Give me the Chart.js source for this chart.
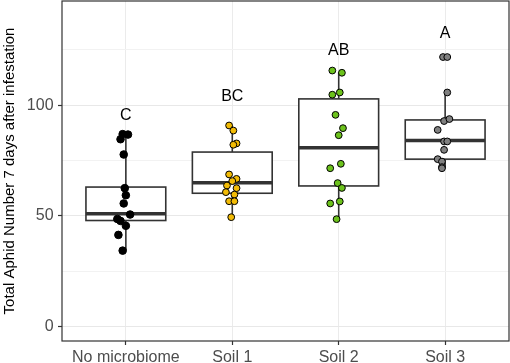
<!DOCTYPE html>
<html>
<head>
<meta charset="utf-8">
<script src="https://cdn.jsdelivr.net/npm/chart.js@4/dist/chart.umd.min.js"></script>
<style>
  html, body { margin: 0; padding: 0; background: #fff; overflow: hidden; }
  canvas { display: block; }
</style>
</head>
<body>
<canvas id="chart" width="510" height="372"></canvas>
<script>
// 組別與數據
const categories = ['No microbiome', 'Soil 1', 'Soil 2', 'Soil 3'];
const groupColors = ['#000000', '#f2bb05', '#6cc21c', '#808080'];
const letters = ['C', 'BC', 'AB', 'A'];
const letterY = [95.3, 103.9, 124.5, 132.1];

// 盒鬚圖統計值
const whiskerLow = [34.4, 49.4, 48.5, 71.5];
const q1 = [47.9, 60.2, 63.5, 75.6];
const median = [50.9, 65.0, 80.8, 84.0];
const q3 = [63.0, 78.8, 102.8, 93.3];
const whiskerHigh = [86.6, 90.8, 114.8, 105.7];

// 各點數值 (y) 與水平抖動 (x 偏移)
const noMicroY = [86.9, 86.7, 84.6, 77.7, 62.5, 59.3, 55.6, 50.6, 48.6, 47.7, 45.5, 41.4, 34.3];
const noMicroX = [-0.03, 0.02, -0.05, -0.02, -0.01, 0.00, -0.02, 0.04, -0.08, -0.05, 0.00, -0.07, -0.03];
const soil1Y = [90.8, 88.5, 82.7, 82.1, 68.7, 66.7, 65.7, 63.7, 62.5, 60.7, 59.6, 56.6, 56.6, 49.4];
const soil1X = [-0.03, 0.01, 0.04, 0.01, -0.03, 0.04, 0.00, -0.05, 0.04, -0.06, 0.02, -0.03, 0.02, -0.01];
const soil2Y = [115.6, 114.6, 104.7, 105.7, 95.6, 89.6, 86.4, 73.5, 71.5, 64.8, 62.6, 56.5, 55.6, 48.5];
const soil2X = [-0.06, 0.03, -0.06, 0.01, -0.03, 0.04, 0.00, 0.02, -0.08, -0.01, 0.03, 0.01, -0.08, -0.02];
const soil3Y = [121.7, 121.7, 105.7, 92.8, 93.7, 88.8, 83.6, 83.6, 79.8, 75.6, 74.5, 72.0, 71.5];
const soil3X = [-0.02, 0.02, 0.02, -0.01, 0.04, -0.07, -0.01, 0.02, -0.01, -0.07, -0.03, -0.03, -0.03];

const yTicks = [0, 25, 50, 75, 100, 125];
const yLabelTicks = [0, 50, 100];

const pointSets = [[noMicroX, noMicroY], [soil1X, soil1Y], [soil2X, soil2Y], [soil3X, soil3Y]];

const datasets = pointSets.map(([xs, ys], i) => ({
    label: categories[i],
    data: ys.map((v, j) => ({ x: i + xs[j], y: v })),
    backgroundColor: groupColors[i],
    borderColor: '#000',
    borderWidth: 1,
    pointRadius: i === 0 ? 3.8 : 3.4,
    pointHoverRadius: 3.4
}));

// 繪製盒鬚圖
const boxPlugin = {
    id: 'boxes',
    beforeDatasetsDraw(chart) {
        const { ctx, scales: { x, y } } = chart;
        const half = 0.375;
        ctx.save();
        ctx.strokeStyle = '#333';
        categories.forEach((c, i) => {
            const cx = x.getPixelForValue(i);
            const left = x.getPixelForValue(i - half);
            const right = x.getPixelForValue(i + half);
            // 鬚線
            ctx.lineWidth = 1.6;
            ctx.beginPath();
            ctx.moveTo(cx, y.getPixelForValue(whiskerHigh[i]));
            ctx.lineTo(cx, y.getPixelForValue(q3[i]));
            ctx.moveTo(cx, y.getPixelForValue(q1[i]));
            ctx.lineTo(cx, y.getPixelForValue(whiskerLow[i]));
            ctx.stroke();
            // 盒子
            const top = y.getPixelForValue(q3[i]);
            const bot = y.getPixelForValue(q1[i]);
            ctx.fillStyle = '#fff';
            ctx.fillRect(left, top, right - left, bot - top);
            ctx.strokeRect(left, top, right - left, bot - top);
            // 中位數
            ctx.lineWidth = 3.5;
            ctx.beginPath();
            const my = y.getPixelForValue(median[i]);
            ctx.moveTo(left, my);
            ctx.lineTo(right, my);
            ctx.stroke();
        });
        ctx.restore();
    },
    afterDatasetsDraw(chart) {
        const { ctx, chartArea: a, scales: { x, y } } = chart;
        ctx.save();
        // 顯著性字母
        ctx.fillStyle = '#000';
        ctx.font = '16px "Liberation Sans", Arial, sans-serif';
        ctx.textAlign = 'center';
        ctx.textBaseline = 'middle';
        letters.forEach((t, i) => {
            ctx.fillText(t, x.getPixelForValue(i), y.getPixelForValue(letterY[i]));
        });
        // 外框
        ctx.strokeStyle = '#333';
        ctx.lineWidth = 1.2;
        ctx.strokeRect(a.left, a.top, a.right - a.left, a.bottom - a.top);
        ctx.restore();
    }
};

new Chart(document.getElementById('chart'), {
    type: 'scatter',
    data: { datasets },
    options: {
        responsive: false,
        animation: false,
        layout: { autoPadding: false, padding: { top: 1, right: 1, left: 0, bottom: 0 } },
        plugins: { legend: { display: false }, tooltip: { enabled: false } },
        scales: {
            x: {
                type: 'linear',
                min: -0.6,
                max: 3.6,
                afterBuildTicks: s => { s.ticks = categories.map((c, i) => ({ value: i })); },
                afterFit: s => { s.height = 31; },
                ticks: {
                    callback: v => categories[v],
                    color: '#4d4d4d',
                    font: { size: 16, family: '"Liberation Sans", Arial, sans-serif' },
                    padding: 3,
                    maxRotation: 0,
                    autoSkip: false
                },
                grid: { color: '#ebebeb', lineWidth: 1, tickLength: 4, tickColor: '#333', tickWidth: 1.2 },
                border: { display: false }
            },
            y: {
                min: -6.5,
                max: 147,
                afterBuildTicks: s => { s.ticks = yTicks.map(v => ({ value: v })); },
                afterFit: s => { s.width = 62; },
                ticks: {
                    callback: v => yLabelTicks.includes(v) ? String(v) + ' ' : '',
                    color: '#4d4d4d',
                    font: { size: 16, family: '"Liberation Sans", Arial, sans-serif', lineHeight: 0.1 },
                    padding: 0
                },
                grid: {
                    color: c => yLabelTicks.includes(c.tick.value) ? '#e8e8e8' : '#f2f2f2',
                    lineWidth: 1,
                    tickLength: 4,
                    tickColor: c => yLabelTicks.includes(c.tick.value) ? '#333' : 'rgba(0,0,0,0)',
                    tickWidth: 1.2
                },
                border: { display: false },
                title: {
                    display: true,
                    text: 'Total Aphid Number 7 days after infestation',
                    color: '#000',
                    font: { size: 15, family: '"Liberation Sans", Arial, sans-serif' },
                    padding: { top: 1, bottom: 0 }
                }
            }
        }
    },
    plugins: [boxPlugin]
});
</script>
</body>
</html>
